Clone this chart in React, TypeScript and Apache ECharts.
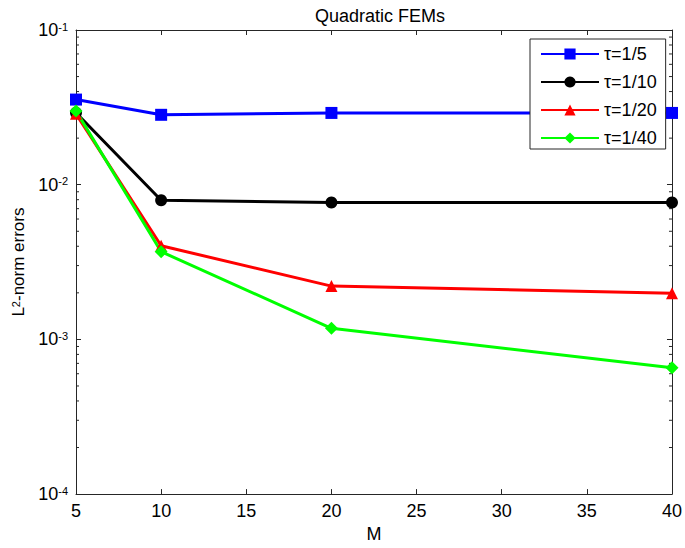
import React, { useEffect, useRef } from 'react';
import * as echarts from 'echarts';

const M = [5, 10, 20, 40];
const tau5 = [0.0355, 0.0283, 0.0291, 0.0291];
const tau10 = [0.0292, 0.00794, 0.00767, 0.00767];
const tau20 = [0.0287, 0.00403, 0.00221, 0.00199];
const tau40 = [0.0300, 0.00369, 0.00118, 0.000656];
const seriesNames = ['τ=1/5', 'τ=1/10', 'τ=1/20', 'τ=1/40'];
const yDecades = [1e-4, 1e-3, 1e-2];
const minorMultipliers = [2, 3, 4, 5, 6, 7, 8, 9];

const FONT = '"Liberation Sans", Arial, sans-serif';
const AXIS = '#262626';

export default function App() {
  const ref = useRef<HTMLDivElement>(null);
  useEffect(() => {
    if (!ref.current) return;
    const chart = echarts.init(ref.current, null, { renderer: 'svg' });
    const minorTicks: number[][] = [];
    yDecades.forEach((d) => minorMultipliers.forEach((m) => minorTicks.push([5, d * m])));

    const mk = (name: string, data: number[], color: string, symbol: string, size: number) => ({
      name,
      type: 'line',
      data: M.map((x, i) => [x, data[i]]),
      symbol,
      symbolSize: size,
      clip: false,
      lineStyle: { color, width: 3 },
      itemStyle: { color },
      z: 3,
    });

    const yLabel = {
      fontSize: 18,
      fontFamily: FONT,
      color: '#000',
      margin: 8,
      formatter: (v: number) => `{b|10}{s|${Math.round(Math.log10(v))}}`,
      rich: {
        b: { fontSize: 18, fontFamily: FONT, color: '#000' },
        s: { fontSize: 11, fontFamily: FONT, color: '#000', verticalAlign: 'top' },
      },
    };

    chart.setOption({
      animation: false,
      backgroundColor: '#fff',
      textStyle: { fontFamily: FONT },
      title: {
        text: 'Quadratic FEMs',
        left: 375,
        textAlign: 'center',
        top: 2,
        textStyle: { fontSize: 18, fontWeight: 'normal', color: '#000', fontFamily: FONT },
      },
      grid: { left: 76, right: 11, top: 30, bottom: 47, containLabel: false },
      legend: {
        data: seriesNames,
        orient: 'vertical',
        left: 530,
        top: 39,
        padding: [6, 9, 2, 10],
        itemWidth: 58,
        itemHeight: 14,
        itemGap: 10,
        backgroundColor: '#fff',
        borderColor: AXIS,
        borderWidth: 1,
        borderRadius: 0,
        textStyle: { fontSize: 18, fontFamily: FONT, color: '#000' },
      },
      xAxis: [
        {
          type: 'value',
          min: 5,
          max: 40,
          interval: 5,
          name: 'M',
          nameLocation: 'middle',
          nameGap: 30,
          nameTextStyle: { fontSize: 18, fontFamily: FONT, color: '#000' },
          axisLine: { show: true, lineStyle: { color: AXIS, width: 1 } },
          axisTick: { show: true, inside: true, length: 5, lineStyle: { color: AXIS } },
          axisLabel: { fontSize: 18, fontFamily: FONT, color: '#000', margin: 8 },
          splitLine: { show: false },
        },
        {
          type: 'value',
          position: 'top',
          min: 5,
          max: 40,
          interval: 5,
          axisLine: { show: true, lineStyle: { color: AXIS, width: 1 } },
          axisTick: { show: true, inside: true, length: 5, lineStyle: { color: AXIS } },
          axisLabel: { show: false },
          splitLine: { show: false },
        },
      ],
      yAxis: [
        {
          type: 'log',
          logBase: 10,
          min: 1e-4,
          max: 1e-1,
          name: '{a|L}{s|2}{a|-norm errors}',
          nameLocation: 'middle',
          nameGap: 47,
          nameTextStyle: {
            fontSize: 17,
            fontFamily: FONT,
            color: '#000',
            rich: {
              a: { fontSize: 17, fontFamily: FONT, color: '#000' },
              s: { fontSize: 11, fontFamily: FONT, color: '#000', verticalAlign: 'top' },
            },
          },
          axisLine: { show: true, lineStyle: { color: AXIS, width: 1 } },
          axisTick: { show: true, inside: true, length: 5, lineStyle: { color: AXIS } },
          axisLabel: yLabel,
          splitLine: { show: false },
        },
        {
          type: 'log',
          logBase: 10,
          min: 1e-4,
          max: 1e-1,
          position: 'right',
          axisLine: { show: true, lineStyle: { color: AXIS, width: 1 } },
          axisTick: { show: true, inside: true, length: 5, lineStyle: { color: AXIS } },
          axisLabel: { show: false },
          splitLine: { show: false },
        },
      ],
      series: [
        {
          name: 'minorTicks',
          type: 'custom',
          data: minorTicks,
          silent: true,
          z: 1,
          renderItem: (params: any, api: any) => {
            const p = api.coord([api.value(0), api.value(1)]);
            const r = api.coord([40, api.value(1)]);
            const st = { stroke: AXIS, lineWidth: 1 };
            return {
              type: 'group',
              children: [
                { type: 'line', shape: { x1: p[0], y1: p[1], x2: p[0] + 3, y2: p[1] }, style: st },
                { type: 'line', shape: { x1: r[0], y1: r[1], x2: r[0] - 3, y2: r[1] }, style: st },
              ],
            };
          },
        },
        mk(seriesNames[0], tau5, '#0000ff', 'rect', 12),
        mk(seriesNames[1], tau10, '#000000', 'circle', 12),
        mk(seriesNames[2], tau20, '#ff0000', 'triangle', 12),
        mk(seriesNames[3], tau40, '#00ff00', 'diamond', 13),
      ],
    });
    return () => chart.dispose();
  }, []);
  return (
    <div
      ref={ref}
      style={{ position: 'absolute', left: 0, top: 0, width: 685, height: 548 }}
    />
  );
}
